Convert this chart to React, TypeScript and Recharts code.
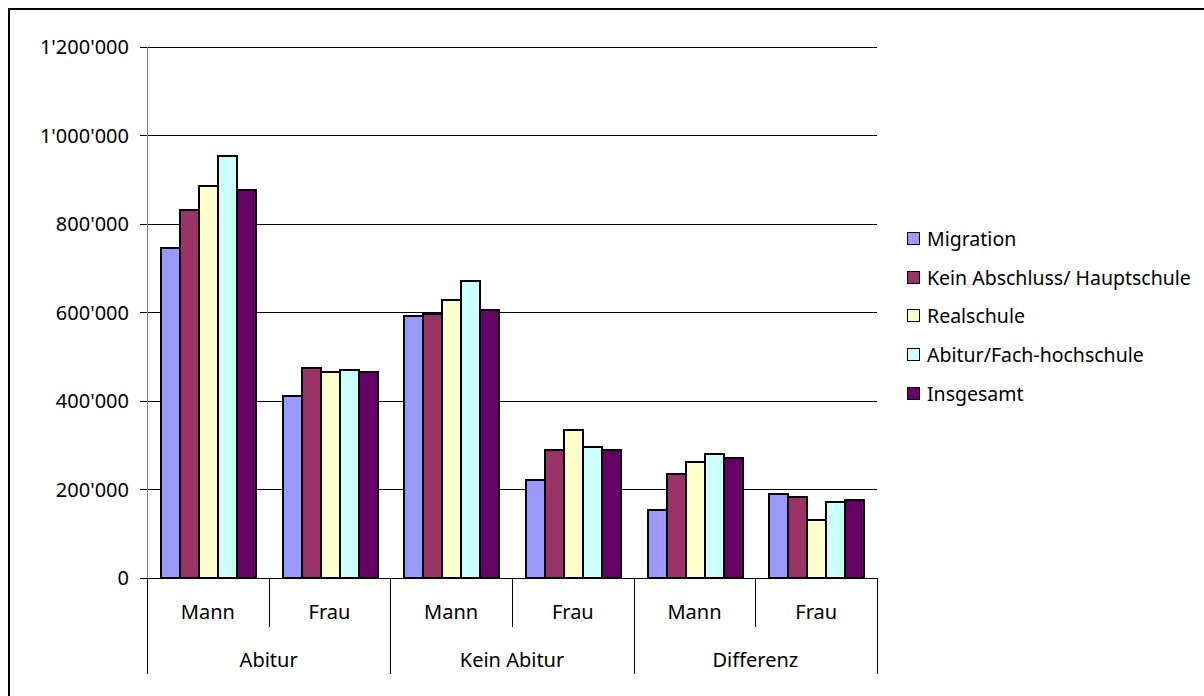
import React from "react";
import { Bar, BarChart, CartesianGrid, Legend, XAxis, YAxis } from "recharts";

const categories = ["Mann", "Frau", "Mann", "Frau", "Mann", "Frau"];
const groups = ["Abitur", "Abitur", "Kein Abitur", "Kein Abitur", "Differenz", "Differenz"];
const migration = [746000, 411000, 591000, 221000, 154000, 189000];
const keinAbschluss = [832000, 474000, 597000, 289000, 235000, 184000];
const realschule = [886000, 465000, 628000, 334000, 262000, 130000];
const abiturFH = [954000, 470000, 672000, 297000, 280000, 171000];
const insgesamt = [877000, 466000, 606000, 289000, 271000, 176000];
const yTicks = [0, 200000, 400000, 600000, 800000, 1000000, 1200000];

const series = [
  { key: "migration", name: "Migration", values: migration, color: "#9999FF" },
  { key: "keinAbschluss", name: "Kein Abschluss/ Hauptschule", values: keinAbschluss, color: "#993366" },
  { key: "realschule", name: "Realschule", values: realschule, color: "#FFFFCC" },
  { key: "abiturFH", name: "Abitur/Fach-hochschule", values: abiturFH, color: "#CCFFFF" },
  { key: "insgesamt", name: "Insgesamt", values: insgesamt, color: "#660066" },
];

const data = categories.map((c, i) => {
  const row: Record<string, string | number> = { sex: c, group: groups[i] };
  series.forEach((s) => (row[s.key] = s.values[i]));
  return row;
});

// body margin is dropped, everything is placed on the 1204x696 page directly
const PAGE_W = 1204;
const PAGE_H = 696;
const W = PAGE_W;
const H = PAGE_H;
const M = { top: 47, right: 327, left: 0, bottom: 0 };
const Y_W = 147;
const PLOT_W = W - M.left - Y_W - M.right;
const BAND = PLOT_W / categories.length;
const FONT = "'Noto Sans', sans-serif";

const fmt = (v: number) => String(v).replace(/\B(?=(\d{3})+(?!\d))/g, "'");

function SexTick(props: any) {
  const { x, y, payload } = props;
  const i = props.index ?? payload.index;
  const half = BAND / 2;
  const left = Math.round(x - half) + 0.5;
  const right = Math.round(x + half) + 0.5;
  return (
    <g>
      <line x1={left} x2={left} y1={y} y2={y + 96} stroke="#000" strokeOpacity={i % 2 === 0 ? 1 : 0} />
      {i % 2 === 1 && <line x1={left} x2={left} y1={y} y2={y + 49} stroke="#000" />}
      {i === categories.length - 1 && <line x1={right} x2={right} y1={y} y2={y + 96} stroke="#000" />}
      <text x={x} y={y + 41} textAnchor="middle" fill="#000" fontSize={20} fontFamily={FONT}>
        {payload.value}
      </text>
      {i % 2 === 1 && (
        <text x={x - half} y={y + 89} textAnchor="middle" fill="#000" fontSize={20} fontFamily={FONT}>
          {groups[i]}
        </text>
      )}
    </g>
  );
}

// legend keeps the series order (recharts would sort it by name)
function LegendBox() {
  return (
    <div style={{ fontFamily: FONT, fontSize: 19.5, color: "#000" }}>
      {series.map((s) => (
        <div key={s.key} style={{ height: 38.8, display: "flex", alignItems: "center", whiteSpace: "nowrap" }}>
          <span
            style={{
              width: 13,
              height: 13,
              boxSizing: "border-box",
              border: "1.5px solid #000",
              background: s.color,
              marginRight: 7,
              display: "inline-block",
              flex: "none",
            }}
          />
          <span>{s.name}</span>
        </div>
      ))}
    </div>
  );
}

export default function App() {
  return (
    <div style={{ position: "relative", width: PAGE_W, height: PAGE_H, background: "#fff", overflow: "hidden" }}>
      <style>{"body{margin:0;overflow:hidden}"}</style>
      <div
        style={{
          position: "absolute",
          left: 8,
          top: 8,
          width: PAGE_W,
          height: PAGE_H,
          boxSizing: "border-box",
          borderLeft: "2px solid #000",
          borderTop: "2px solid #000",
        }}
      />
      <div style={{ position: "absolute", left: 0, top: 0 }}>
        <BarChart
          width={W}
          height={H}
          data={data}
          margin={M}
          barCategoryGap="11.5%"
          barGap={0}
          style={{ shapeRendering: "crispEdges" }}
        >
          <CartesianGrid horizontal vertical={false} stroke="#000" />
          <XAxis
            dataKey="sex"
            interval={0}
            height={H - M.top - 531}
            tickLine={false}
            tickSize={0}
            tickMargin={0}
            axisLine={{ stroke: "#000" }}
            tick={<SexTick />}
          />
          <YAxis
            width={Y_W}
            domain={[0, 1200000]}
            ticks={yTicks}
            interval={0}
            tickFormatter={fmt}
            tickSize={7}
            tickMargin={11}
            tickLine={{ stroke: "#000" }}
            axisLine={{ stroke: "#808080" }}
            tick={{ fill: "#000", fontSize: 20, fontFamily: FONT }}
          />
          <Legend
            layout="vertical"
            align="center"
            verticalAlign="middle"
            wrapperStyle={{ left: 907, top: 219, width: 290 }}
            content={<LegendBox />}
          />
          {series.map((s) => (
            <Bar
              key={s.key}
              dataKey={s.key}
              name={s.name}
              fill={s.color}
              stroke="#000"
              strokeWidth={2}
              isAnimationActive={false}
            />
          ))}
        </BarChart>
      </div>
    </div>
  );
}
